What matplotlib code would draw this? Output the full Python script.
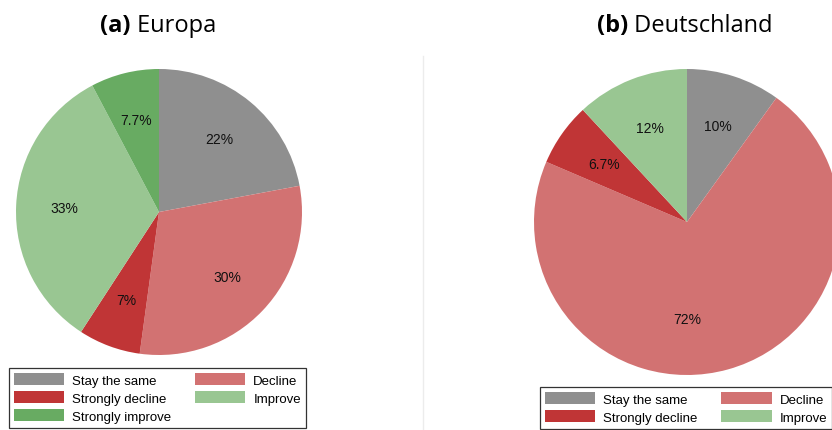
import matplotlib
matplotlib.use("Agg")
import matplotlib.pyplot as plt
from matplotlib.patches import Patch
from matplotlib.lines import Line2D

# ---- data ----
cats_a = ["Stay the same", "Decline", "Strongly decline", "Improve", "Strongly improve"]
vals_a = [22, 30, 7, 33, 7.7]
lbls_a = ["22%", "30%", "7%", "33%", "7.7%"]

cats_b = ["Stay the same", "Decline", "Strongly decline", "Improve"]
vals_b = [10, 72, 6.7, 12]
lbls_b = ["10%", "72%", "6.7%", "12%"]

colors = {
    "Stay the same": "#8f8f8f",
    "Decline": "#d27272",
    "Strongly decline": "#c03536",
    "Improve": "#99c692",
    "Strongly improve": "#68ab62",
}

title_a = ("(a)", "Europa")
title_b = ("(b)", "Deutschland")

W, H = 832, 431
fig = plt.figure(figsize=(W / 100, H / 100), dpi=100)

LFONT = "Liberation Sans"
TFONT = "Open Sans"


def pie_axes(cx, cy, r):
    return fig.add_axes([(cx - r) / W, 1 - (cy + r) / H, 2 * r / W, 2 * r / H])


def draw_pie(ax, cats, vals, lbls):
    wedges, _, autotexts = ax.pie(
        vals,
        colors=[colors[c] for c in cats],
        startangle=90,
        counterclock=False,
        autopct="%1.0f",
        pctdistance=0.66,
        wedgeprops=dict(linewidth=0),
        textprops=dict(fontfamily=LFONT, fontsize=10, color="#111111"),
    )
    for t, s in zip(autotexts, lbls):
        t.set_text(s)
    ax.set_xlim(-1, 1)
    ax.set_ylim(-1, 1)
    ax.set_aspect("equal")
    ax.axis("off")
    return autotexts


ax_a = pie_axes(159, 213, 143)
draw_pie(ax_a, cats_a, vals_a, lbls_a)
ax_b = pie_axes(687, 223, 153)
txt_b = draw_pie(ax_b, cats_b, vals_b, lbls_b)
# the large slice's label sits straight below the centre in the original
big = txt_b[cats_b.index("Decline")]
big.set_position((0, big.get_position()[1]))

# divider
fig.add_artist(Line2D([423 / W, 423 / W], [0, 1 - 57 / H], color="#ececec", lw=1.0))


def legend(order, anchor):
    handles = [Patch(facecolor=colors[c], edgecolor="none") for c in order]
    leg = fig.legend(
        handles, order, loc="upper left", bbox_to_anchor=anchor,
        bbox_transform=fig.transFigure, ncol=2, fancybox=False,
        prop=dict(family=LFONT, size=9.5), handlelength=3.8, handleheight=1.0,
        handletextpad=0.6, columnspacing=1.8, labelspacing=0.35,
        borderpad=0.4, borderaxespad=0, frameon=True,
    )
    fr = leg.get_frame()
    fr.set_edgecolor("#333333")
    fr.set_linewidth(0.9)
    fr.set_alpha(None)
    return leg


legend(["Stay the same", "Strongly decline", "Strongly improve", "Decline", "Improve"],
       (9 / W, 1 - 369 / H))
legend(["Stay the same", "Strongly decline", "Decline", "Improve"],
       (540 / W, 1 - 388 / H))

# titles: bold prefix + regular text, centered together
fig.canvas.draw()
renderer = fig.canvas.get_renderer()


def title(parts, cx, y):
    t1 = fig.text(0, 1 - y / H, parts[0], fontfamily=TFONT, fontweight="bold",
                  fontsize=17, va="baseline", ha="left")
    t2 = fig.text(0, 1 - y / H, " " + parts[1], fontfamily=TFONT,
                  fontsize=17, va="baseline", ha="left")
    w1 = t1.get_window_extent(renderer).width
    w2 = t2.get_window_extent(renderer).width
    x0 = cx - (w1 + w2) / 2
    t1.set_x(x0 / W)
    t2.set_x((x0 + w1) / W)


title(title_a, 158, 32)
title(title_b, 685, 32)

fig.savefig("out.png", dpi=100)
